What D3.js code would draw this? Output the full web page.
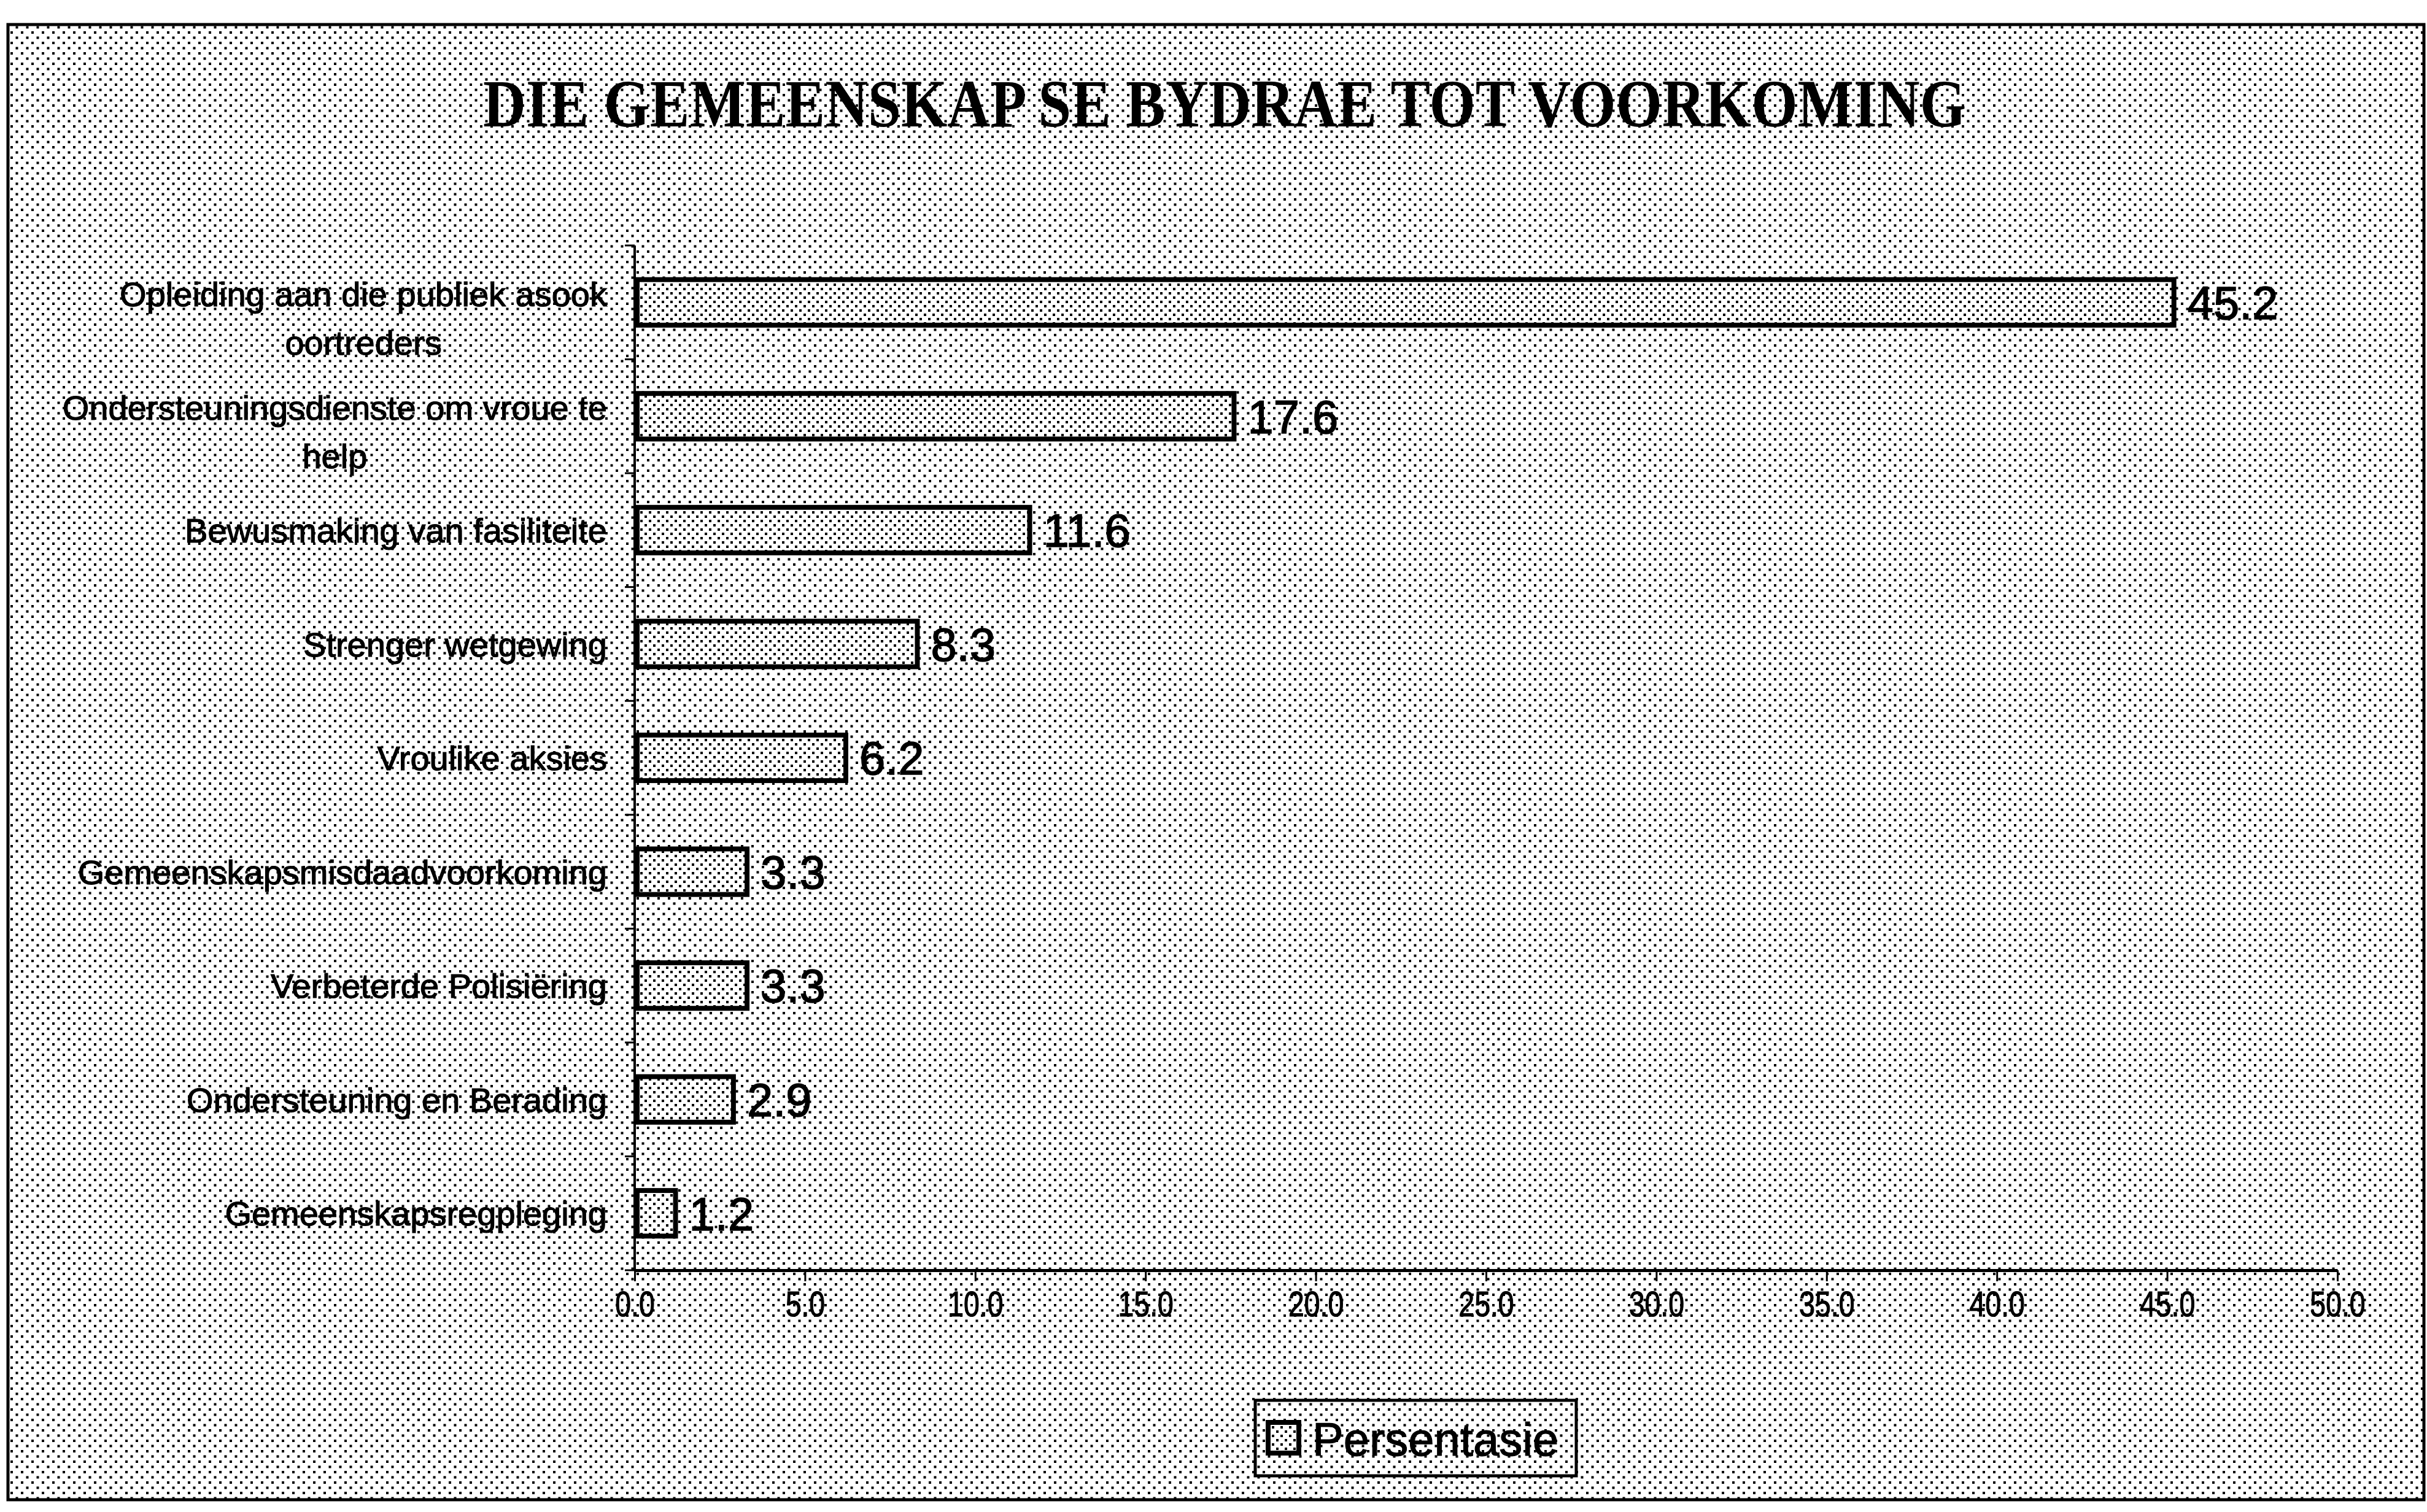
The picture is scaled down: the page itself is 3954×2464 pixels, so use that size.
<!DOCTYPE html>
<html>
<head>
<meta charset="utf-8">
<script src="https://cdn.jsdelivr.net/npm/d3@7"></script>
<style>
    body { margin: 0; background: #fff; }
    svg { display: block; }
</style>
</head>
<body>
<svg id="chart" width="3954" height="2464"></svg>
<script>
// chart data, top bar first
const categories = [
    "Opleiding aan die publiek asook oortreders",
    "Ondersteuningsdienste om vroue te help",
    "Bewusmaking van fasiliteite",
    "Strenger wetgewing",
    "Vroulike aksies",
    "Gemeenskapsmisdaadvoorkoming",
    "Verbeterde Polisiëring",
    "Ondersteuning en Berading",
    "Gemeenskapsregpleging"
];
const values = [45.2, 17.6, 11.6, 8.3, 6.2, 3.3, 3.3, 2.9, 1.2];
const xTicks = [0, 5, 10, 15, 20, 25, 30, 35, 40, 45, 50];
const title = "DIE GEMEENSKAP SE BYDRAE TOT VOORKOMING";
const seriesName = "Persentasie";

const svg = d3.select("#chart");
const sans = "'Liberation Sans', Arial, sans-serif";

// halftone dot patterns (the scan has a dotted grey fill everywhere)
const defs = svg.append("defs");
function dotPattern(id, size, dot) {
    const p = defs.append("pattern")
        .attr("id", id)
        .attr("width", size).attr("height", size)
        .attr("patternUnits", "userSpaceOnUse");
    p.append("rect").attr("width", size).attr("height", size).attr("fill", "#fff");
    p.append("rect").attr("x", 0).attr("y", 0).attr("width", dot).attr("height", dot).attr("fill", "#000");
    p.append("rect").attr("x", size / 2).attr("y", size / 2).attr("width", dot).attr("height", dot).attr("fill", "#000");
}
dotPattern("bgDots", 17, 4);
dotPattern("barDots", 14, 4);

// outer frame
svg.append("rect")
    .attr("x", 13).attr("y", 40)
    .attr("width", 3936).attr("height", 2404)
    .attr("fill", "url(#bgDots)")
    .attr("stroke", "#000")
    .attr("stroke-width", 5);

svg.append("text")
    .attr("x", 787).attr("y", 206)
    .attr("textLength", 2416)
    .attr("lengthAdjust", "spacingAndGlyphs")
    .style("font-family", "'Liberation Serif', 'Times New Roman', serif")
    .style("font-weight", "bold")
    .style("font-size", "110px")
    .text(title);

// scales
const x = d3.scaleLinear()
    .domain([0, 50])
    .range([1034, 3808]);

const y = d3.scaleBand()
    .domain(categories)
    .range([400, 2070])
    .paddingInner(0.6)
    .paddingOuter(0.3);

// bars
svg.append("g")
    .selectAll("rect")
    .data(values)
    .join("rect")
    .attr("x", x(0) + 4)
    .attr("y", (d, i) => y(categories[i]))
    .attr("width", d => x(d) - x(0) - 4)
    .attr("height", y.bandwidth())
    .attr("fill", "url(#barDots)")
    .attr("stroke", "#000")
    .attr("stroke-width", 8);

// value labels
svg.append("g")
    .selectAll("text")
    .data(values)
    .join("text")
    .attr("x", d => x(d) + 22)
    .attr("y", (d, i) => y(categories[i]) + y.bandwidth() / 2)
    .attr("dy", "0.36em")
    .attr("stroke", "#000")
    .attr("stroke-width", 1.5)
    .style("font-family", sans)
    .style("font-size", "76px")
    .text(d => d3.format(".1f")(d));

// x axis
const xAxis = svg.append("g")
    .attr("transform", `translate(0,${y.range()[1]})`)
    .call(d3.axisBottom(x)
        .tickValues(xTicks)
        .tickFormat(d3.format(".1f"))
        .tickSize(18)
        .tickSizeOuter(0)
        .tickPadding(16));
xAxis.attr("font-size", null).attr("font-family", null);
xAxis.select(".domain").attr("stroke", "#000").attr("stroke-width", 5);
xAxis.selectAll(".tick line").attr("stroke", "#000").attr("stroke-width", 3);
xAxis.selectAll(".tick text")
    .attr("fill", "#000")
    .attr("stroke", "#000")
    .attr("stroke-width", 1.2)
    .attr("transform", "scale(0.8,1)")
    .style("font-family", sans)
    .style("font-size", "58px");

// y axis: line plus ticks on the band boundaries
const yAxis = svg.append("g");
yAxis.append("line")
    .attr("x1", x(0)).attr("x2", x(0))
    .attr("y1", y.range()[0]).attr("y2", y.range()[1])
    .attr("stroke", "#000")
    .attr("stroke-width", 4);
yAxis.selectAll(".ytick")
    .data(d3.range(categories.length + 1))
    .join("line")
    .attr("class", "ytick")
    .attr("x1", x(0) - 16).attr("x2", x(0))
    .attr("y1", i => y.range()[0] + i * y.step())
    .attr("y2", i => y.range()[0] + i * y.step())
    .attr("stroke", "#000")
    .attr("stroke-width", 3);

// category labels, wrapped like Excel does
const labelRight = 989;
const maxLabelWidth = 920;
const labelGroup = svg.append("g")
    .attr("stroke", "#000")
    .attr("stroke-width", 1.2)
    .style("font-family", sans)
    .style("font-size", "56px");

categories.forEach(cat => {
    const cy = y(cat) + y.bandwidth() / 2;
    const probe = labelGroup.append("text").attr("visibility", "hidden");
    const words = cat.split(" ");
    const lines = [];
    let line = [];
    words.forEach(w => {
        line.push(w);
        probe.text(line.join(" "));
        if (probe.node().getComputedTextLength() > maxLabelWidth && line.length > 1) {
            line.pop();
            lines.push(line.join(" "));
            line = [w];
        }
    });
    lines.push(line.join(" "));
    probe.remove();

    if (lines.length === 1) {
        labelGroup.append("text")
            .attr("x", labelRight)
            .attr("y", cy)
            .attr("dy", "0.36em")
            .attr("text-anchor", "end")
            .text(lines[0]);
    } else {
        const first = labelGroup.append("text")
            .attr("x", labelRight)
            .attr("y", cy - 14)
            .attr("dy", "0.36em")
            .attr("text-anchor", "end")
            .text(lines[0]);
        const w = first.node().getComputedTextLength();
        lines.slice(1).forEach((l, k) => {
            labelGroup.append("text")
                .attr("x", labelRight - w / 2)
                .attr("y", cy - 14 + 79 * (k + 1))
                .attr("dy", "0.36em")
                .attr("text-anchor", "middle")
                .text(l);
        });
    }
});

// legend
const legend = svg.append("g");
legend.append("rect")
    .attr("x", 2045).attr("y", 2282)
    .attr("width", 523).attr("height", 123)
    .attr("fill", "url(#bgDots)")
    .attr("stroke", "#000")
    .attr("stroke-width", 5);
legend.append("rect")
    .attr("x", 2066).attr("y", 2318)
    .attr("width", 50).attr("height", 50)
    .attr("fill", "url(#barDots)")
    .attr("stroke", "#000")
    .attr("stroke-width", 8);
legend.append("text")
    .attr("x", 2138).attr("y", 2372)
    .attr("stroke", "#000")
    .attr("stroke-width", 1.2)
    .style("font-family", sans)
    .style("font-size", "76px")
    .text(seriesName);
</script>
</body>
</html>
